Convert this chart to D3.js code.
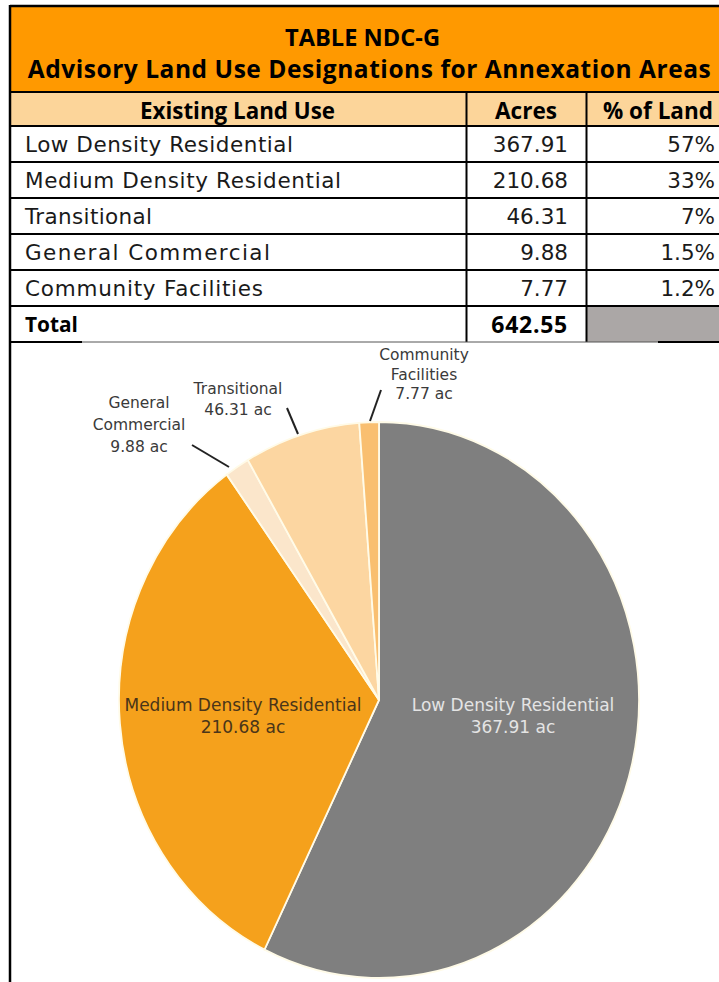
<!DOCTYPE html>
<html>
<head>
<meta charset="utf-8">
<script src="https://cdn.jsdelivr.net/npm/d3@7"></script>
<style>
  html, body { margin: 0; padding: 0; background: #ffffff; }
  svg { display: block; }
</style>
</head>
<body>
<div id="chart"></div>
<script>
// ---------------- DATA ----------------
const tableTitle = "TABLE NDC-G";
const tableSubtitle = "Advisory Land Use Designations for Annexation Areas";
const columnHeaders = ["Existing Land Use", "Acres", "% of Land"];
const categories = ["Low Density Residential", "Medium Density Residential", "Transitional", "General Commercial", "Community Facilities"];
const acres = [367.91, 210.68, 46.31, 9.88, 7.77];
const percentLabels = ["57%", "33%", "7%", "1.5%", "1.2%"];
const totalLabel = "Total";
const totalAcres = 642.55;
// pie slice order (clockwise from 12 o'clock), as indices into categories
const pieOrder = [0, 1, 3, 2, 4];
// pie label lines per category
const pieLabelLines = [
  ["Low Density Residential", "367.91 ac"],
  ["Medium Density Residential", "210.68 ac"],
  ["Transitional", "46.31 ac"],
  ["General", "Commercial", "9.88 ac"],
  ["Community", "Facilities", "7.77 ac"]
];

// ---------------- STYLE ----------------
const W = 719, H = 982;
const sliceColors = ["#7f7f7f", "#f5a11c", "#fcd6a1", "#fbe6cb", "#f9bf70"];
const bodyFont = "'DejaVu Sans', sans-serif";
const boldFont = "'Open Sans', Lato, sans-serif";

const svg = d3.select("#chart").append("svg")
  .attr("width", W).attr("height", H);

svg.append("rect").attr("width", W).attr("height", H).attr("fill", "#fff");

// fit a text element to a target width: shrink font if too wide, else add letter spacing
function fitWidth(sel, target) {
  const n = sel.text().length;
  let w = sel.node().getComputedTextLength();
  if (w > target) {
    const fs = parseFloat(sel.style("font-size"));
    sel.style("font-size", (fs * target / w).toFixed(2) + "px");
    w = sel.node().getComputedTextLength();
  }
  if (n > 1) sel.attr("letter-spacing", ((target - w) / (n - 1)).toFixed(2));
  return sel;
}

// ---------------- TABLE ----------------
const xL = 10, xR = 721, xC1 = 466.5, xC2 = 586.5;
const yTop = 6, yHead = 92, rowH = 36;
const yCol = 126;
const rowY = d3.range(categories.length + 2).map(i => yCol + i * rowH);

svg.append("rect").attr("x", xL).attr("y", yTop).attr("width", xR - xL).attr("height", yHead - yTop)
  .attr("fill", "#ff9900");
svg.append("rect").attr("x", xL).attr("y", yHead).attr("width", xR - xL).attr("height", yCol - yHead)
  .attr("fill", "#fcd59a");
const totalTop = rowY[categories.length], totalBot = rowY[categories.length + 1];
svg.append("rect").attr("x", xC2).attr("y", totalTop).attr("width", xR - xC2).attr("height", totalBot - totalTop)
  .attr("fill", "#aba7a6");

function boldText(x, y, s, size, anchor) {
  return svg.append("text").attr("x", x).attr("y", y).attr("text-anchor", anchor || "middle")
    .attr("dominant-baseline", "central")
    .style("font-family", boldFont).style("font-weight", "bold").style("font-size", size + "px")
    .attr("fill", "#000").text(s);
}
fitWidth(boldText(362.5, 37, tableTitle, 24.5), 155);
fitWidth(boldText(369.5, 68, tableSubtitle, 24.5), 683);

const headX = [237.5, 526, 658];
const headW = [195, 62, 110];
columnHeaders.forEach((h, i) => fitWidth(boldText(headX[i], 110, h, 23), headW[i]));

const fmt = d3.format(".2f");
function bodyText(x, y, s, anchor) {
  return svg.append("text").attr("x", x).attr("y", y).attr("text-anchor", anchor || "start")
    .attr("dominant-baseline", "central")
    .style("font-family", bodyFont).style("font-weight", "normal").style("font-size", "21.5px")
    .attr("fill", "#1a1a1a").text(s);
}
const labelW = [268, 316, 127, 245, 238];
categories.forEach((c, i) => {
  const cy = (rowY[i] + rowY[i + 1]) / 2;
  fitWidth(bodyText(25, cy, c), labelW[i]);
  bodyText(568, cy, fmt(acres[i]), "end");
  bodyText(715, cy, percentLabels[i], "end");
});
const tcy = (totalTop + totalBot) / 2;
fitWidth(boldText(25, tcy, totalLabel, 23, "start"), 53);
fitWidth(boldText(568, tcy, fmt(totalAcres), 23, "end"), 76);

// grid lines
const line = (x1, y1, x2, y2, w, col) => svg.append("line")
  .attr("x1", x1).attr("y1", y1).attr("x2", x2).attr("y2", y2)
  .attr("stroke", col || "#000").attr("stroke-width", w);
line(xL, yTop, xR, yTop, 2.5);
line(xL, yHead, xR, yHead, 2);
rowY.slice(0, categories.length + 1).forEach(y => line(xL, y, xR, y, 2));
line(xL, yTop - 1, xL, H, 2.5);
line(xC1, yHead, xC1, totalBot, 2);
line(xC2, yHead, xC2, totalBot, 2);
line(xL, totalBot, 82, totalBot, 2);
line(82, totalBot, 658, totalBot, 1, "#555");
line(658, totalBot, xR, totalBot, 2);

// ---------------- PIE ----------------
const cx = 379, cy = 700, rx = 260, ry = 278;
const pieData = pieOrder.map(i => ({ idx: i, name: categories[i], value: acres[i] }));
const pie = d3.pie().sort(null).value(d => d.value);
const arcs = pie(pieData);
const arc = d3.arc().innerRadius(0).outerRadius(ry);

const pg = svg.append("g").attr("transform", `translate(${cx},${cy}) scale(${rx / ry},1)`);
pg.selectAll("path").data(arcs).join("path")
  .attr("d", arc)
  .attr("fill", d => sliceColors[d.data.idx])
  .attr("stroke", "#fffbe8")
  .attr("stroke-width", 1.8)
  .attr("vector-effect", "non-scaling-stroke");

function label(lines, x, y0, lh, color, size) {
  const t = svg.append("text").attr("text-anchor", "middle")
    .style("font-family", bodyFont).style("font-weight", "normal").style("font-size", size + "px")
    .attr("fill", color);
  lines.forEach((s, k) => {
    t.append("tspan").attr("x", x).attr("y", y0 + k * lh).attr("dominant-baseline", "central").text(s);
  });
}
label(pieLabelLines[0], 513, 705, 22, "#e4e4e4", 17);
label(pieLabelLines[1], 243, 705, 22, "#4a3519", 17);
label(pieLabelLines[2], 238, 389, 21, "#3a3a3a", 15.5);
label(pieLabelLines[3], 139, 403, 22, "#3a3a3a", 15.5);
label(pieLabelLines[4], 424, 355, 19.5, "#3a3a3a", 15.5);

line(287, 408, 298, 434, 2, "#222");
line(192, 445, 229, 467, 2, "#222");
line(381, 390, 370, 421, 2, "#222");
</script>
</body>
</html>
